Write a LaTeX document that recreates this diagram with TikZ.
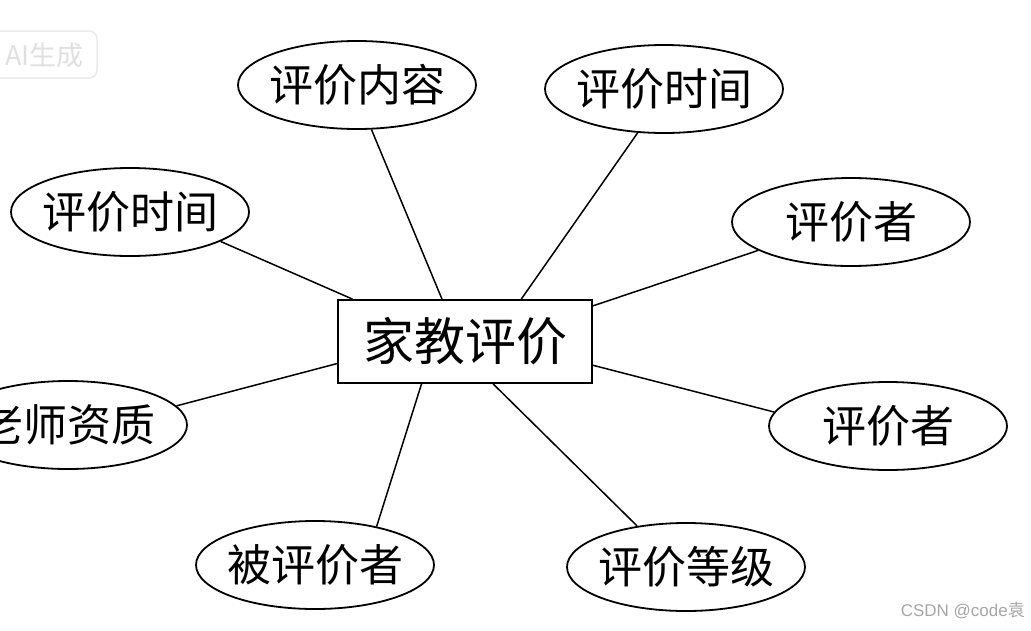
\documentclass[tikz,border=0pt]{standalone}
\usepackage{fontspec}
\setmainfont{Noto Sans CJK SC}
\newfontfamily\cjk{Noto Sans CJK SC}
\newfontfamily\latinsans{Liberation Sans}
\usetikzlibrary{shapes.geometric,calc}
\begin{document}
\begin{tikzpicture}[x=1pt,y=-1pt,
  attr/.style={draw=black, line width=1.8pt, ellipse, minimum width=238pt, minimum height=88pt, inner xsep=-6pt, inner ysep=0pt, font=\cjk\fontsize{44}{44}\selectfont},
  entity/.style={draw=black, line width=1.8pt, rectangle, minimum width=254pt, minimum height=83pt, inner sep=0pt, font=\cjk\fontsize{51}{51}\selectfont},
  link/.style={draw=black, line width=1.5pt},
  wm/.style={text=black!12, inner sep=0pt}]
\fill[white] (0,0) rectangle (1031,630);
\useasboundingbox (0,0) rectangle (1031,630);
% watermark top-left
\draw[black!8, line width=1.5pt, rounded corners=8pt] (-20,31) rectangle (97,78);
\node[wm, anchor=east, font=\cjk\fontsize{27}{27}\selectfont] (wmai) at (84,55) {AI生成};
% entity
\node[entity] (main) at (465,341.5) {家教评价};
% attributes
\node[attr] (c1) at (357,85) {评价内容};
\node[attr] (c2) at (664,89) {评价时间};
\node[attr] (c3) at (130,212) {评价时间};
\node[attr] (c4) at (851,222) {评价者};
\node[attr] (c5) at (68,425) {老师资质};
\node[attr] (c6) at (888,426) {评价者};
\node[attr] (c7) at (315,565) {被评价者};
\node[attr] (c8) at (686,567) {评价等级};
% connectors
\draw[link] (c1.288) -- ($(main.north west)!0.41!(main.north east)$);
\draw[link] (c2.239) -- ($(main.north west)!0.72!(main.north east)$);
\draw[link] (c3.342) -- ($(main.north west)!0.06!(main.north east)$);
\draw[link] (c4.197) -- ($(main.north east)!0.08!(main.south east)$);
\draw[link] (c5.10) -- ($(main.north west)!0.76!(main.south west)$);
\draw[link] (c6.173) -- ($(main.north east)!0.78!(main.south east)$);
\draw[link] (c7.32) -- ($(main.south west)!0.33!(main.south east)$);
\draw[link] (c8.140) -- ($(main.south west)!0.61!(main.south east)$);
% watermark bottom-right
\node[anchor=east, text=black!35, inner sep=0pt, font=\latinsans\fontsize{17}{17}\selectfont] (wmcsdn) at (1025,611) {CSDN @code{\cjk 袁}};
\end{tikzpicture}
\end{document}
